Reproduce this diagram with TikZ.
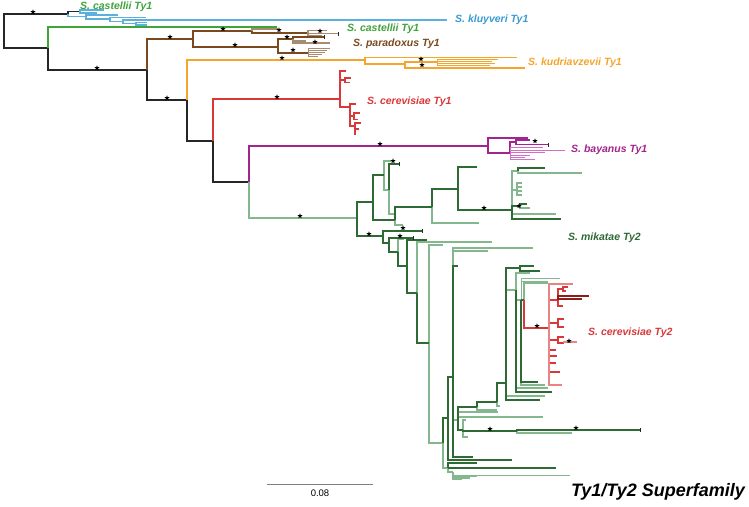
\documentclass[tikz,border=0pt]{standalone}
\usepackage{fontspec}
\setmainfont{Liberation Sans}
\usetikzlibrary{shapes.geometric}
\definecolor{cdark}{HTML}{262626}
\definecolor{cblue}{HTML}{5BB1DC}
\definecolor{tblue}{HTML}{3A9BD2}
\definecolor{ccast}{HTML}{3FA43A}
\definecolor{cbrown}{HTML}{7A4A1E}
\definecolor{lbrown}{HTML}{A98B70}
\definecolor{corange}{HTML}{F4A52C}
\definecolor{cred}{HTML}{D83838}
\definecolor{lred}{HTML}{E88484}
\definecolor{dred}{HTML}{8E1C1C}
\definecolor{cpurple}{HTML}{A2248E}
\definecolor{lpurple}{HTML}{D56CC6}
\definecolor{cdg}{HTML}{2E6A33}
\definecolor{clg}{HTML}{84B78E}
\tikzset{
  br/.style={line width=1.1pt},
  tb/.style={line width=1pt},
  lab/.style={anchor=west, inner sep=0pt, font=\fontsize{10.5}{12}\selectfont\bfseries\itshape},
  bs/.style={star, star points=5, star point ratio=2.4, fill=black, inner sep=0pt, minimum size=5.5pt},
}

\begin{document}
\begin{tikzpicture}[x=1pt, y=-1pt]
  \useasboundingbox (0,0) rectangle (749,506);

  % backbone
  \foreach \a/\b/\c/\d in {4/31/68/14, 4/31/48/48, 48/48/147/70, 147/70/187/100,
      187/100/213/141, 213/141/249/182, 68/14/80/11.5}
    \draw[br, cdark] (\a,\b) |- (\c,\d);

  % kluyveri / castellii
  \foreach \a/\b/\c/\d in {80/11.5/104/10, 80/11.5/97/13, 68/14/86/16.5, 86/16.5/118/15,
      86/16.5/110/19, 110/19/146/17.5, 110/19/123/21.5, 123/21.5/447/20,
      123/21.5/136/23.5, 136/23.5/147/22.5, 136/23.5/147/25}
    \draw[br, cblue] (\a,\b) |- (\c,\d);
  \draw[br, ccast] (48,48) |- (277,27);

  % paradoxus
  \foreach \a/\b/\c/\d in {147/70/193/39, 193/39/252/31, 193/39/278/47, 252/31/308/33,
      278/47/293/39, 278/47/308/53, 293/39/324/37}
    \draw[br, cbrown] (\a,\b) |- (\c,\d);
  \foreach \a/\b/\c/\d in {252/31/278/29, 308/33/327/30.5, 308/33/338/33.5, 308/33/322/35.5,
      293/39/330/43, 293/39/306/41}
    \draw[br, lbrown] (\a,\b) |- (\c,\d);
  \foreach \a/\b/\c/\d in {308/53/330/48, 308/53/327/50, 308/53/325/52,
      308/53/322/54, 308/53/318/56}
    \draw[tb, lbrown] (\a,\b) |- (\c,\d);

  % kudriavzevii
  \foreach \a/\b/\c/\d in {187/100/365/60, 365/60/517/57.5, 365/60/405/64, 405/64/437/62,
      405/64/525/68}
    \draw[br, corange] (\a,\b) |- (\c,\d);
  \foreach \a/\b/\c/\d in {437/62/498/59.5, 437/62/492/61.5, 437/62/495/63.5, 437/62/490/65.5}
    \draw[tb, corange] (\a,\b) |- (\c,\d);

  % cerevisiae Ty1
  \foreach \a/\b/\c/\d in {213/141/340/99, 340/99/346/71, 340/99/345/80, 345/80/351/78,
      345/80/350/82.5, 340/99/350/107, 350/107/356/104, 350/107/354/116, 354/116/360/113,
      354/116/358/119.5, 350/107/355/126, 355/126/361/123, 355/126/359/129, 355/126/356/134}
    \draw[br, cred] (\a,\b) |- (\c,\d);

  % bayanus
  \foreach \a/\b/\c/\d in {249/182/488/146, 488/146/528/138, 488/146/510/153,
      510/153/516/142, 516/142/530/140, 516/142/548/144.5}
    \draw[br, cpurple] (\a,\b) |- (\c,\d);
  \foreach \a/\b/\c/\d in {510/153/543/147.5, 510/153/565/150, 510/153/545/152.5,
      510/153/530/155, 510/153/525/157, 510/153/535/159}
    \draw[tb, lpurple] (\a,\b) |- (\c,\d);

  % mikatae Ty2
  \foreach \a/\b/\c/\d in {249/182/357/218, 384/175/391/161, 384/175/389/190, 389/190/394/214,
      395/220/403/225, 432/207/479/223, 512/210/518/171, 518/171/582/173, 512/210/517/190,
      517/190/522/183, 517/190/522/187, 517/190/522/191, 517/190/522/195, 520/206/530/208,
      512/210/556/214, 398/252/404/239, 417/293/492/242, 429/343/443/245, 429/343/443/443,
      443/443/448/468, 453/377/533/248, 453/377/488/251, 453/377/458/420, 458/420/498/412,
      458/420/543/417, 477/407/497/410, 497/402/500/406, 506/383/516/290, 506/383/545/396,
      516/290/530/273, 516/290/521/300, 516/290/548/388, 521/300/545/385, 524/300/548/283,
      463/430/466/420, 463/430/468/437, 517/431/572/433, 448/468/453/472, 453/472/477/476,
      453/472/470/478, 453/472/462/479}
    \draw[br, clg] (\a,\b) |- (\c,\d);
  \foreach \a/\b/\c/\d in {521/300/560/278, 521/300/548/281, 453/472/570/475}
    \draw[tb, clg] (\a,\b) |- (\c,\d);
  \foreach \a/\b/\c/\d in {357/218/373/202, 357/218/383/236, 373/202/384/175, 373/202/395/220,
      389/190/399/164, 395/220/432/207, 432/207/458/189, 458/189/477/167, 458/189/512/210,
      518/171/545/168, 512/210/520/206, 520/206/527/204, 512/210/561/219,
      383/236/422/231, 383/236/389/243, 389/243/413/238, 389/243/398/252, 398/252/407/266,
      407/266/427/240, 407/266/417/293, 417/293/429/343, 443/443/448/418,
      448/418/453/377, 448/418/512/460, 453/377/458/266, 453/377/473/457,
      458/420/477/407, 458/420/463/430, 477/407/497/402, 497/402/506/383, 506/383/520/268,
      506/383/540/400, 520/268/534/266, 520/268/540/271, 516/290/552/392, 521/300/524/300,
      521/300/538/382, 463/430/517/431, 517/431/640/430, 448/468/477/463, 448/468/556/468}
    \draw[br, cdg] (\a,\b) |- (\c,\d);

  % cerevisiae Ty2
  \foreach \a/\b/\c/\d in {524/300/549/328, 549/328/558/300, 558/300/563/289, 563/289/568/287,
      563/289/566/291, 558/300/563/306, 549/328/558/323, 558/323/564/319, 558/323/564/327,
      549/328/558/340, 558/340/564/337, 558/340/564/343, 549/328/556/350, 549/328/557/356,
      549/328/556/363, 549/328/560/372}
    \draw[br, cred] (\a,\b) |- (\c,\d);
  \foreach \a/\b/\c/\d in {549/328/573/284, 564/343/577/342, 549/328/562/385}
    \draw[br, lred] (\a,\b) |- (\c,\d);
  \foreach \a/\b/\c/\d in {558/300/589/296, 558/300/582/299}
    \draw[br, dred] (\a,\b) |- (\c,\d);

  % tip bars
  \foreach \x/\y in {422/231, 399/164, 413/238, 640/430, 548/144.5, 324/37, 338/33.5}
    \draw[line width=0.8pt, cdark] (\x,\y-2) -- (\x,\y+2);

  % support stars
  \foreach [count=\i] \x/\y in {33/12, 97/68, 170/37, 167/98, 223/29, 235/45, 279/30, 320/31,
      287/37, 293/50, 315/42, 282/58, 421/59, 422/65, 277/97, 380/144, 535/141, 300/216,
      369/234, 403/228, 400/236, 393/161, 484/208, 519/206, 537/326, 569/341, 490/429, 576/428}
    \node[bs] (bs\i) at (\x,\y) {};

  % clade labels
  \node[lab, ccast] (castA) at (80,6.5) {S. castellii Ty1};
  \node[lab, tblue] (kluyveri) at (455,20) {S. kluyveri Ty1};
  \node[lab, ccast] (castB) at (347,29) {S. castellii Ty1};
  \node[lab, cbrown] (paradoxus) at (353,44) {S. paradoxus Ty1};
  \node[lab, corange] (kudriav) at (528,63) {S. kudriavzevii Ty1};
  \node[lab, cred] (cerevA) at (367,102) {S. cerevisiae Ty1};
  \node[lab, cpurple] (bayanus) at (571,150) {S. bayanus Ty1};
  \node[lab, cdg] (mikatae) at (568,238) {S. mikatae Ty2};
  \node[lab, cred] (cerevB) at (588,333) {S. cerevisiae Ty2};

  % scale bar
  \coordinate (sb0) at (267,484);
  \coordinate (sb1) at (373,484);
  \draw[line width=0.8pt, gray] (sb0) -- (sb1);
  \node[font=\fontsize{9.5}{11}\selectfont] (sblab) at (320,493) {0.08};

  \node[anchor=east, inner sep=0pt, font=\fontsize{18}{20}\selectfont\bfseries\itshape] (title) at (745,492) {Ty1/Ty2 Superfamily};
\end{tikzpicture}
\end{document}
